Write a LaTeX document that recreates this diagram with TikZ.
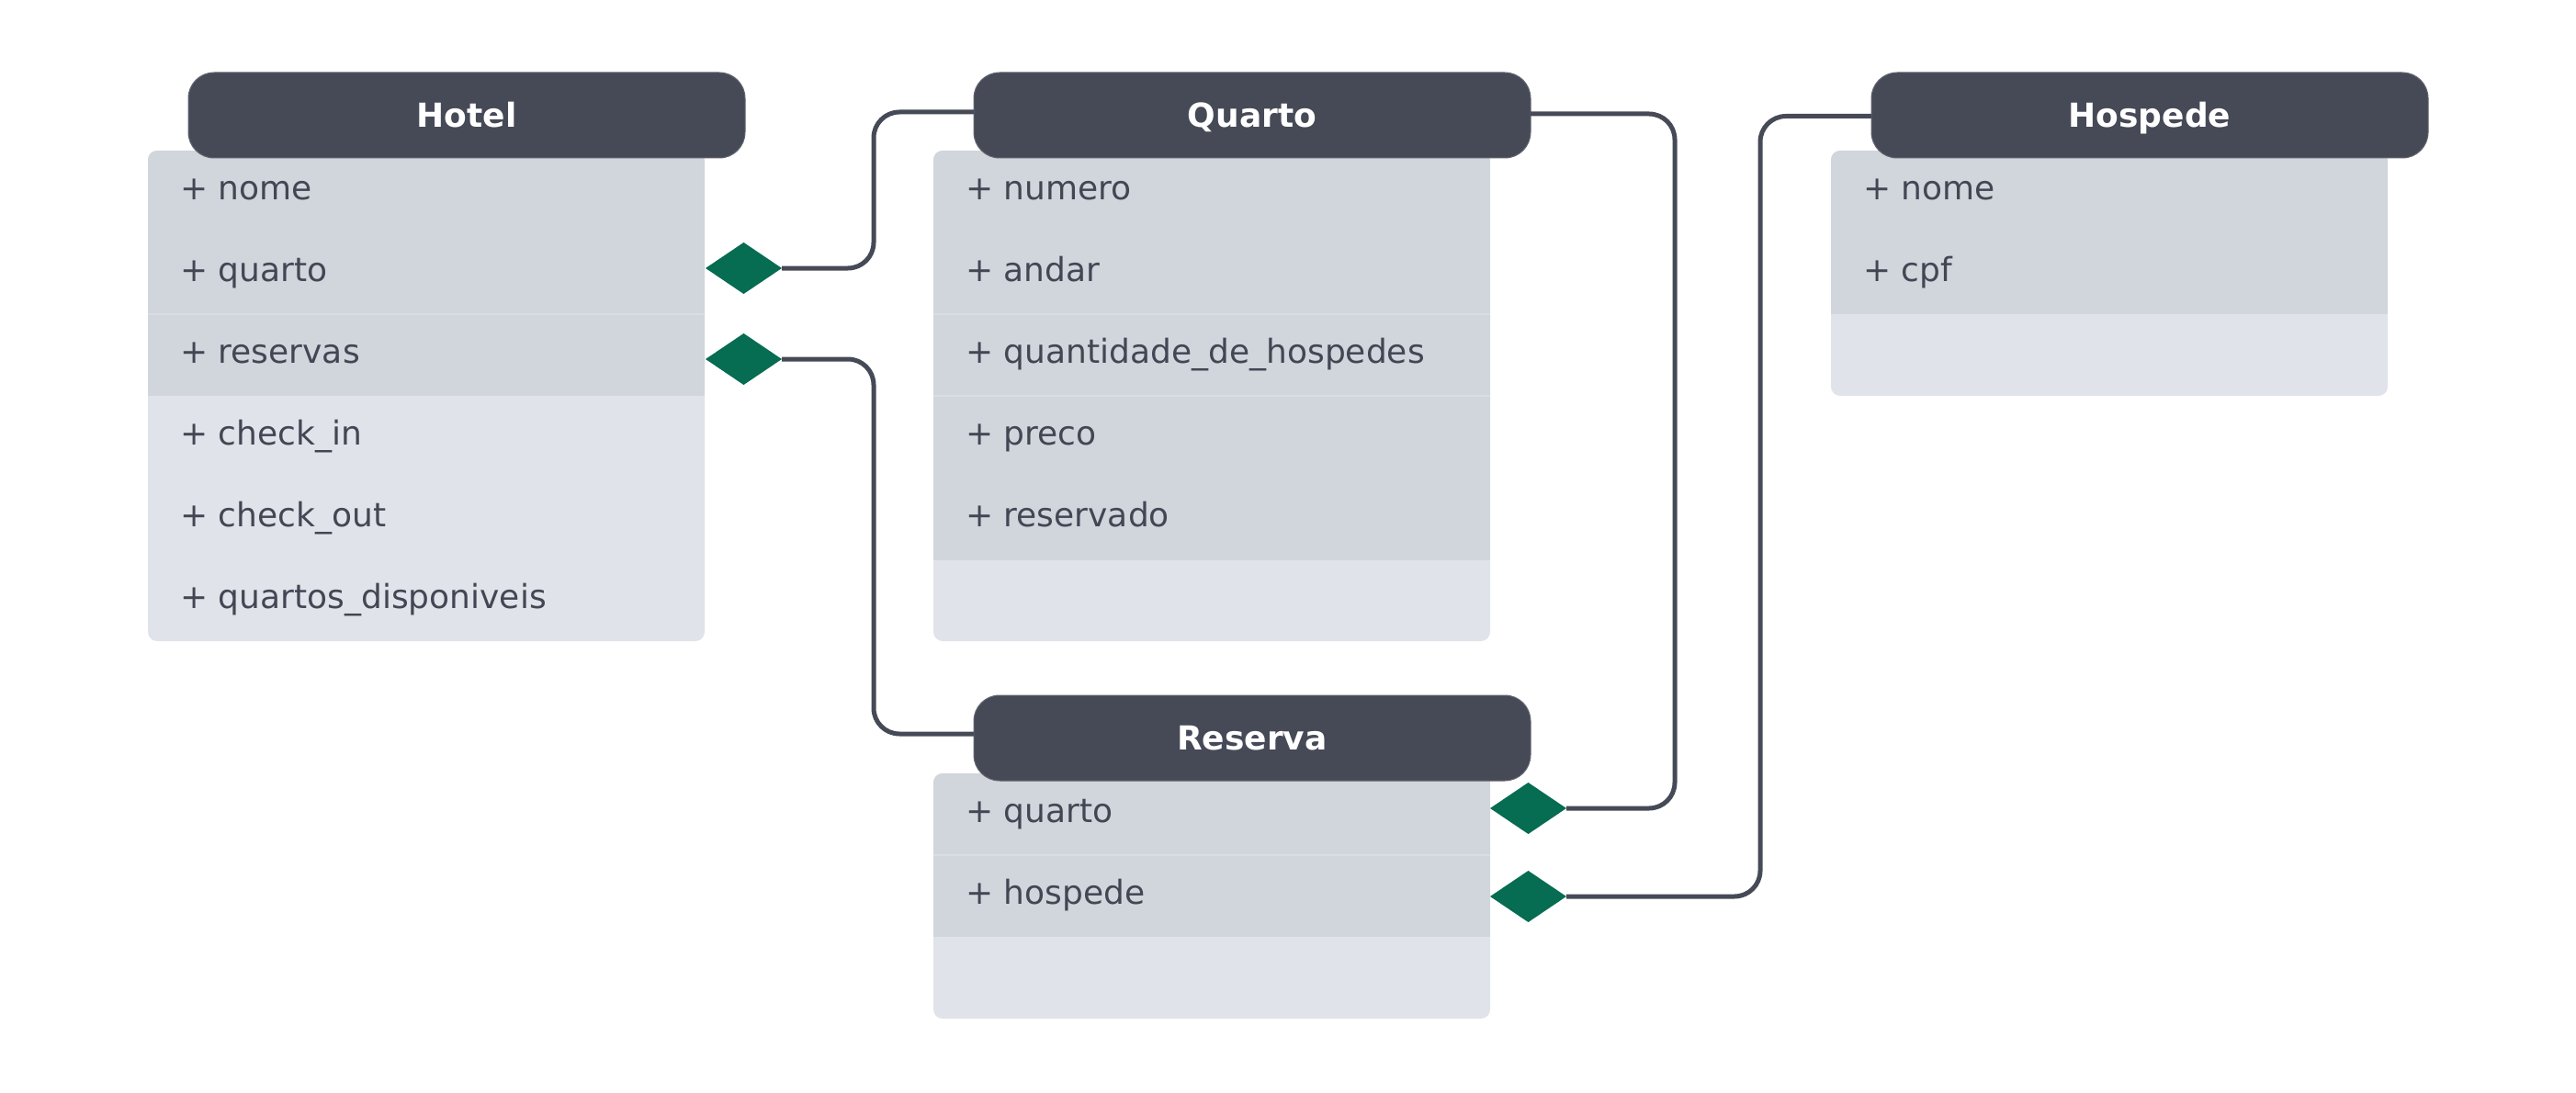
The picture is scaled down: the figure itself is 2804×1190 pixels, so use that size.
\documentclass[tikz,border=0pt]{standalone}
\usepackage{fontspec}
\setmainfont{DejaVu Sans}
\usetikzlibrary{shapes.geometric}
\definecolor{headc}{HTML}{464A57}
\definecolor{bodydark}{HTML}{D1D5DC}
\definecolor{bodylight}{HTML}{E0E3EA}
\definecolor{divc}{HTML}{DADDE3}
\definecolor{textc}{HTML}{434754}
\definecolor{compg}{HTML}{066C52}
\definecolor{linec}{HTML}{464A57}
\begin{document}
\begin{tikzpicture}[x=1pt,y=-1pt,
  classhead/.style={fill=headc, draw=headc!85!white, line width=1pt, rounded corners=28pt,
    minimum width=606pt, minimum height=93pt,
    inner sep=0pt, outer sep=0pt, anchor=north west, text=white,
    font=\fontsize{36}{40}\selectfont\bfseries, text height=26pt, text depth=0pt},
  classbody/.style={fill=bodylight, rounded corners=10pt, minimum width=606pt,
    inner sep=0pt, outer sep=0pt, anchor=north west},
  attr/.style={anchor=base west, inner sep=0pt, text=textc, font=\fontsize{36}{40}\selectfont},
  comp/.style={diamond, fill=compg, minimum width=83pt, minimum height=56pt, inner sep=0pt, outer sep=0pt},
  conn/.style={draw=linec, line width=5pt, rounded corners=28pt},
  divider/.style={draw=divc, line width=1.5pt}
]
\useasboundingbox (0,0) rectangle (2804,1190);

% ---------- Hotel ----------
\node[classbody, minimum height=534pt] (hotelb) at (161,164) {};
\begin{scope}
  \clip[rounded corners=10pt] (161,164) rectangle (767,698);
  \fill[bodydark] (161,164) rectangle (767,431);
\end{scope}
\draw[divider] (161,342) -- (767,342);
\node[attr] (hotel1) at (196,217.5) {+ nome};
\node[attr] (hotel2) at (196,306.5) {+ quarto};
\node[attr] (hotel3) at (196,395.5) {+ reservas};
\node[attr] (hotel4) at (196,484.5) {+ check\_in};
\node[attr] (hotel5) at (196,573.5) {+ check\_out};
\node[attr] (hotel6) at (196,662.5) {+ quartos\_disponiveis};
\node[classhead] (hotelh) at (205,79) {Hotel};

% ---------- Quarto ----------
\node[classbody, minimum height=534pt] (quartob) at (1016,164) {};
\begin{scope}
  \clip[rounded corners=10pt] (1016,164) rectangle (1622,698);
  \fill[bodydark] (1016,164) rectangle (1622,610);
\end{scope}
\draw[divider] (1016,342) -- (1622,342);
\draw[divider] (1016,431) -- (1622,431);
\node[attr] (quarto1) at (1051,217.5) {+ numero};
\node[attr] (quarto2) at (1051,306.5) {+ andar};
\node[attr] (quarto3) at (1051,395.5) {+ quantidade\_de\_hospedes};
\node[attr] (quarto4) at (1051,484.5) {+ preco};
\node[attr] (quarto5) at (1051,573.5) {+ reservado};
\node[classhead] (quartoh) at (1060,79) {Quarto};

% ---------- Hospede ----------
\node[classbody, minimum height=267pt] (hospb) at (1993,164) {};
\begin{scope}
  \clip[rounded corners=10pt] (1993,164) rectangle (2599,431);
  \fill[bodydark] (1993,164) rectangle (2599,342);
\end{scope}
\node[attr] (hosp1) at (2028,217.5) {+ nome};
\node[attr] (hosp2) at (2028,306.5) {+ cpf};
\node[classhead] (hosph) at (2037,79) {Hospede};

% ---------- Reserva ----------
\node[classbody, minimum height=267pt] (reservab) at (1016,842) {};
\begin{scope}
  \clip[rounded corners=10pt] (1016,842) rectangle (1622,1109);
  \fill[bodydark] (1016,842) rectangle (1622,1020);
\end{scope}
\draw[divider] (1016,931) -- (1622,931);
\node[attr] (reserva1) at (1051,895.5) {+ quarto};
\node[attr] (reserva2) at (1051,984.5) {+ hospede};
\node[classhead] (reservah) at (1060,757) {Reserva};

% ---------- composition diamonds ----------
\node[comp] (d1) at (809.5,292) {};
\node[comp] (d2) at (809.5,391) {};
\node[comp] (d3) at (1663.5,880) {};
\node[comp] (d4) at (1663.5,976) {};

% ---------- connectors ----------
\draw[conn] (d1.east) -- ++(100,0) |- ([yshift=3.5pt]quartoh.west);
\draw[conn] (d2.east) -- ++(100,0) |- ([yshift=4.5pt]reservah.west);
\draw[conn] ([yshift=1.5pt]quartoh.east) -- ++(157,0) |- (d3.east);
\draw[conn] ([yshift=-1pt]hosph.west) -- ++(-121,0) |- (d4.east);
\end{tikzpicture}
\end{document}
